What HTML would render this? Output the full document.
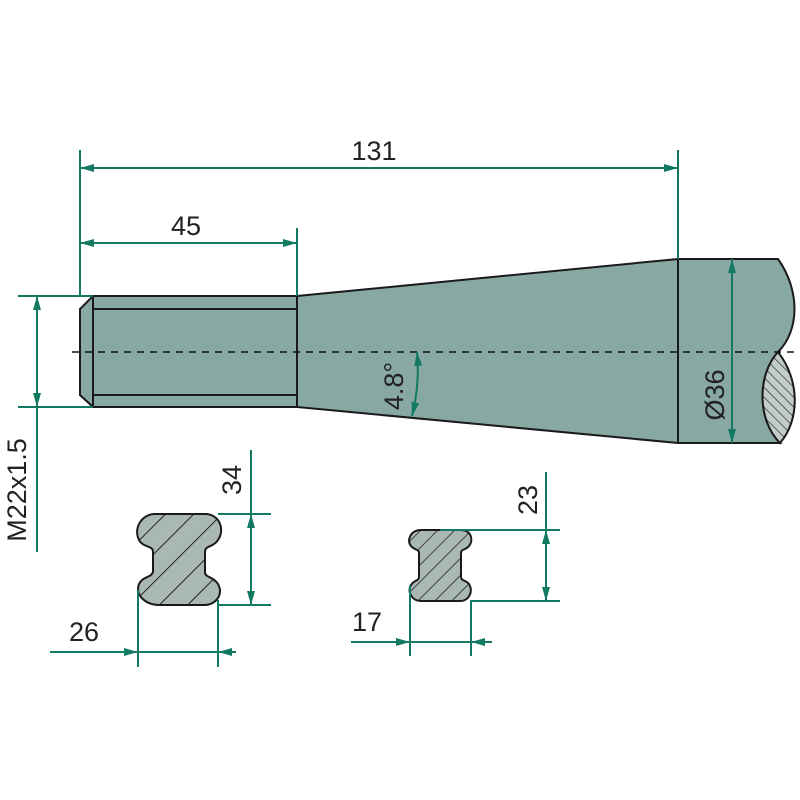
<!DOCTYPE html>
<html><head><meta charset="utf-8"><style>
html,body{margin:0;padding:0;background:#fff;}
svg{display:block;}
text{font-family:"Liberation Sans Narrow","Liberation Sans",sans-serif;fill:#222;font-size:27px;}
</style></head><body>
<svg width="800" height="800" viewBox="0 0 800 800" xmlns="http://www.w3.org/2000/svg">
<defs>
<marker id="a" viewBox="0 0 14 8" refX="14" refY="4" markerWidth="14" markerHeight="8" markerUnits="userSpaceOnUse" orient="auto-start-reverse"><path d="M0,0 L14,4 L0,8 Z" fill="#127a62"/></marker>
<pattern id="h1" patternUnits="userSpaceOnUse" width="20" height="20" patternTransform="rotate(45)"><rect width="20" height="20" fill="#a9b8b3"/><line x1="0" y1="0" x2="0" y2="20" stroke="#222" stroke-width="2"/></pattern>
<pattern id="h2" patternUnits="userSpaceOnUse" width="12" height="12" patternTransform="rotate(45)"><rect width="12" height="12" fill="#a9b8b3"/><line x1="0" y1="0" x2="0" y2="12" stroke="#222" stroke-width="1.6"/></pattern>
<pattern id="h3" patternUnits="userSpaceOnUse" width="7" height="7" patternTransform="rotate(-45)"><rect width="7" height="7" fill="#c2ccc8"/><line x1="0" y1="0" x2="0" y2="7" stroke="#222" stroke-width="1.3"/></pattern>
</defs>
<g fill="#88a8a4" stroke="#1a1a1a" stroke-width="2">
<path d="M297,296 L678,259 L778,259 C800,290 800,330 778,352 C757,375 757,420 780,443 L678,443 L297,407 Z"/>
<path d="M93,296 L297,296 L297,407 L93,407 L80,395 L80,309 Z"/>
<line x1="93" y1="309" x2="297" y2="309"/><line x1="93" y1="395" x2="297" y2="395"/>
<line x1="93" y1="296" x2="93" y2="407"/>
<line x1="678" y1="259" x2="678" y2="443"/>
<path d="M778,352 C757,375 757,420 780,443 C800,420 800,380 778,352 Z" fill="url(#h3)"/>
<path d="M155,514 L205,514 C220,514 225,530 218,540 C213,548 205,545 205,552 L205,572 C205,578 213,576 218,584 C224,595 215,605 205,605 L160,605 C145,605 135,595 139,584 C143,576 151,578 153,572 L153,552 C153,545 143,548 139,540 C133,528 142,514 155,514 Z" fill="url(#h1)"/>
<path d="M421,530 L461,530 C471,530 474,540 469,546 C466,550 461,549 461,553 L461,577 C461,581 466,580 469,584 C474,592 468,601 461,601 L421,601 C412,601 407,592 411,585 C414,580 419,581 419,577 L419,553 C419,549 414,550 411,546 C406,540 411,530 421,530 Z" fill="url(#h2)"/>
</g>
<line x1="72" y1="352" x2="796" y2="352" stroke="#111" stroke-width="1.6" stroke-dasharray="7,6"/>
<g stroke="#127a62" stroke-width="2" fill="none">
<line x1="80" y1="150" x2="80" y2="296"/><line x1="678" y1="150" x2="678" y2="259"/>
<line x1="80" y1="168" x2="678" y2="168" marker-start="url(#a)" marker-end="url(#a)"/>
<line x1="297" y1="228" x2="297" y2="296"/>
<line x1="80" y1="243" x2="297" y2="243" marker-start="url(#a)" marker-end="url(#a)"/>
<line x1="18" y1="296" x2="93" y2="296"/><line x1="18" y1="407" x2="93" y2="407"/>
<line x1="37" y1="296" x2="37" y2="407" marker-start="url(#a)" marker-end="url(#a)"/>
<line x1="37" y1="407" x2="37" y2="552"/>
<line x1="732" y1="259" x2="732" y2="443" marker-start="url(#a)" marker-end="url(#a)"/>
<path d="M417,352 Q420,384 412,416" marker-start="url(#a)" marker-end="url(#a)"/>
<line x1="251" y1="450" x2="251" y2="514"/>
<line x1="218" y1="514" x2="271" y2="514"/><line x1="218" y1="605" x2="271" y2="605"/>
<line x1="251" y1="514" x2="251" y2="605" marker-start="url(#a)" marker-end="url(#a)"/>
<line x1="138" y1="590" x2="138" y2="667"/><line x1="218" y1="600" x2="218" y2="667"/>
<line x1="50" y1="652" x2="138" y2="652" marker-end="url(#a)"/>
<line x1="138" y1="652" x2="218" y2="652"/>
<line x1="236" y1="652" x2="218" y2="652" marker-end="url(#a)"/>
<line x1="546" y1="472" x2="546" y2="530"/>
<line x1="440" y1="530" x2="560" y2="530"/><line x1="471" y1="601" x2="560" y2="601"/>
<line x1="546" y1="530" x2="546" y2="601" marker-start="url(#a)" marker-end="url(#a)"/>
<line x1="410" y1="585" x2="410" y2="656"/><line x1="471" y1="600" x2="471" y2="656"/>
<line x1="351" y1="642" x2="410" y2="642" marker-end="url(#a)"/>
<line x1="410" y1="642" x2="471" y2="642"/>
<line x1="492" y1="642" x2="471" y2="642" marker-end="url(#a)"/>
</g>
<text x="374" y="160" text-anchor="middle">131</text>
<text x="186" y="235" text-anchor="middle">45</text>
<text x="84" y="641" text-anchor="middle">26</text>
<text x="367" y="631" text-anchor="middle">17</text>
<text transform="translate(241,480) rotate(-90)" text-anchor="middle">34</text>
<text transform="translate(537,500) rotate(-90)" text-anchor="middle">23</text>
<text transform="translate(26,490) rotate(-90)" text-anchor="middle">M22x1.5</text>
<text transform="translate(724,395) rotate(-90)" text-anchor="middle">Ø36</text>
<text transform="translate(403,386) rotate(-90)" text-anchor="middle">4.8°</text>
</svg>
</body></html>
